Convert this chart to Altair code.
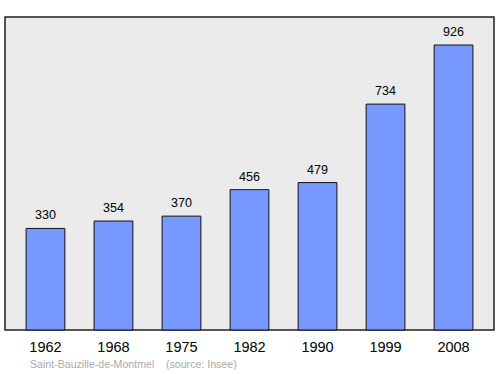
import altair as alt
import pandas as pd

years = ["1962", "1968", "1975", "1982", "1990", "1999", "2008"]
population = [330, 354, 370, 456, 479, 734, 926]
footer = "Saint-Bauzille-de-Montmel\u00a0\u00a0\u00a0\u00a0(source: Insee)"

df = pd.DataFrame({"year": years, "pop": population})

base = alt.Chart(df).encode(
    x=alt.X(
        "year:N",
        sort=None,
        scale=alt.Scale(paddingInner=0.43, paddingOuter=0.31),
        axis=alt.Axis(
            title=None, labelAngle=0, ticks=False, domain=False,
            labelFontSize=14.5, labelFont="Liberation Sans", labelColor="black",
            labelFontWeight="normal", labelPadding=10,
        ),
    ),
    y=alt.Y("pop:Q", scale=alt.Scale(domain=[0, 1017], nice=False), axis=None),
)

bars = base.mark_bar(color="#7799ff", stroke="#111111", strokeWidth=1)
labels = base.mark_text(
    baseline="bottom", dy=-6, fontSize=12.5, font="Liberation Sans", color="black"
).encode(text="pop:Q")

chart = (
    (bars + labels)
    .properties(
        width=489,
        height=313,
        autosize=alt.AutoSizeParams(type="none"),
        padding={"left": 5, "top": 17, "right": 6, "bottom": 44},
        title=alt.TitleParams(
            footer, orient="bottom", anchor="start", fontSize=10.6,
            color="#aaaaaa", font="Liberation Sans", fontWeight="normal",
            dx=25, offset=6,
        ),
        background="white",
    )
    .configure_view(fill="#ebebeb", stroke="#222222", strokeWidth=1.5)
)

chart.save("out.html", embed_options={"renderer": "svg", "actions": False})
